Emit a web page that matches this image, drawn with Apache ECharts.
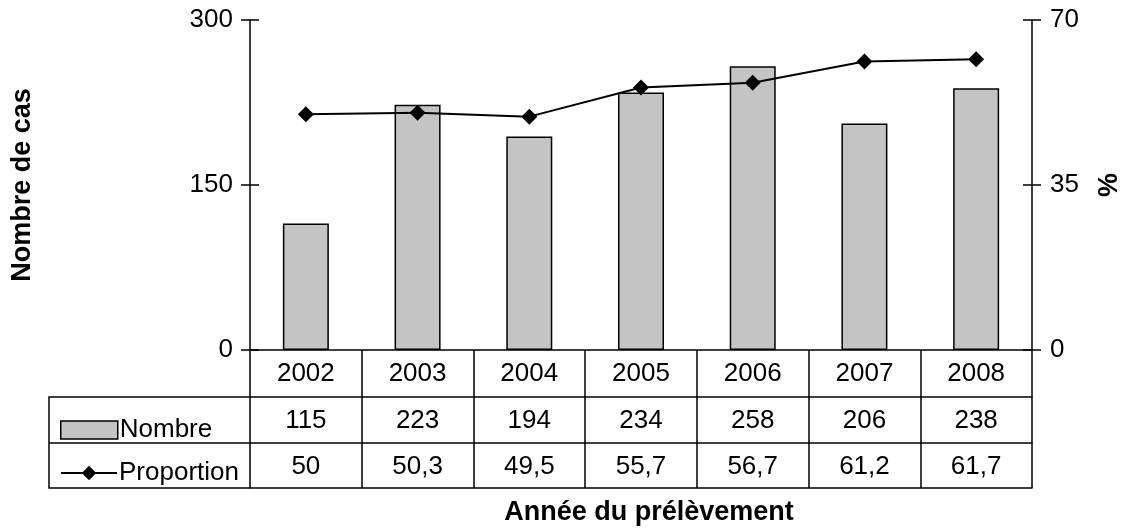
<!DOCTYPE html>
<html>
<head>
<meta charset="utf-8">
<script src="https://cdn.jsdelivr.net/npm/echarts@6/dist/echarts.min.js"></script>
<style>
  html, body { margin: 0; padding: 0; background: #fff; }
  #chart { width: 1127px; height: 531px; }
</style>
</head>
<body>
<div id="chart"></div>
<script>
// données
const years = ['2002', '2003', '2004', '2005', '2006', '2007', '2008'];
const nombre = [115, 223, 194, 234, 258, 206, 238];
const proportion = [50, 50.3, 49.5, 55.7, 56.7, 61.2, 61.7];

const font = 'Liberation Sans, Arial, sans-serif';
const black = '#000';

// texte des cellules du tableau (virgule décimale)
const fmt = v => String(v).replace('.', ',');

// un axe "ligne de tableau" : trait horizontal + traits verticaux entre les colonnes
function tableAxis(data, offset, tickLen, showLabel) {
  return {
    type: 'category',
    data: data,
    position: 'bottom',
    offset: offset,
    boundaryGap: true,
    axisLine: { show: true, onZero: false, lineStyle: { color: black, width: 1.5 } },
    axisTick: { show: tickLen > 0, alignWithLabel: false, interval: 0, length: tickLen, lineStyle: { color: black, width: 1.5 } },
    axisLabel: { show: showLabel, interval: 0, margin: 11, color: black, fontSize: 26, fontFamily: font },
    splitLine: { show: false }
  };
}

const chart = echarts.init(document.getElementById('chart'));
chart.setOption({
  animation: false,
  backgroundColor: '#fff',
  textStyle: { fontFamily: font },
  grid: { left: 250, right: 95, top: 20, bottom: 181, containLabel: false, outerBoundsMode: 'none' },
  title: {
    text: 'Année du prélèvement',
    left: 644,
    top: 494,
    textAlign: 'center',
    textStyle: { fontSize: 27, fontWeight: 'bold', color: black, fontFamily: font }
  },
  legend: [
    {
      data: [{ name: 'Nombre', icon: 'rect', itemStyle: { color: '#c4c4c4', borderColor: black, borderWidth: 1.5 } }],
      left: 55, top: 412, itemWidth: 57, itemHeight: 18,
      textStyle: { fontSize: 26, color: black, fontFamily: font, padding: [0, 0, 0, -3] }
    },
    {
      data: ['Proportion'],
      left: 55, top: 455, itemWidth: 56, itemHeight: 18,
      textStyle: { fontSize: 26, color: black, fontFamily: font, padding: [0, 0, 0, -3] }
    }
  ],
  xAxis: [
    tableAxis(years, 0, 47, true),
    tableAxis(nombre.map(fmt), 47, 46, true),
    tableAxis(proportion.map(fmt), 93, 45, true),
    tableAxis(years.map(() => ''), 138, 0, false)
  ],
  yAxis: [
    {
      type: 'value', min: 0, max: 300, interval: 150, position: 'left',
      name: 'Nombre de cas', nameLocation: 'middle', nameRotate: 90, nameGap: 214,
      nameTextStyle: { fontSize: 27, fontWeight: 'bold', color: black, fontFamily: font },
      axisLine: { show: true, lineStyle: { color: black, width: 1.5 } },
      axisTick: { show: true, length: 9, lineStyle: { color: black, width: 1.5 } },
      axisLabel: { color: black, fontSize: 26, margin: 17, fontFamily: font },
      splitLine: { show: false }
    },
    {
      type: 'value', min: 0, max: 70, interval: 35, position: 'right',
      name: '%', nameLocation: 'middle', nameRotate: 90, nameGap: 64,
      nameTextStyle: { fontSize: 27, fontWeight: 'bold', color: black, fontFamily: font },
      axisLine: { show: true, lineStyle: { color: black, width: 1.5 } },
      axisTick: { show: true, length: 9, lineStyle: { color: black, width: 1.5 } },
      axisLabel: { color: black, fontSize: 26, margin: 18, fontFamily: font },
      splitLine: { show: false }
    },
    // copies pour les graduations qui traversent l'axe
    {
      type: 'value', min: 0, max: 300, interval: 150, position: 'left',
      axisLine: { show: false },
      axisTick: { show: true, inside: true, length: 9, lineStyle: { color: black, width: 1.5 } },
      axisLabel: { show: false }, splitLine: { show: false }
    },
    {
      type: 'value', min: 0, max: 70, interval: 35, position: 'right',
      axisLine: { show: false },
      axisTick: { show: true, inside: true, length: 9, lineStyle: { color: black, width: 1.5 } },
      axisLabel: { show: false }, splitLine: { show: false }
    }
  ],
  graphic: [
    { type: 'polyline', shape: { points: [[250, 397], [49, 397], [49, 488], [250, 488]] }, style: { stroke: black, lineWidth: 1.5, fill: null } },
    { type: 'line', shape: { x1: 49, y1: 443, x2: 250, y2: 443 }, style: { stroke: black, lineWidth: 1.5 } }
  ],
  series: [
    {
      name: 'Nombre',
      type: 'bar',
      xAxisIndex: 0,
      yAxisIndex: 0,
      barWidth: 46,
      data: nombre,
      itemStyle: { color: '#c4c4c4', borderColor: black, borderWidth: 1.5 }
    },
    {
      name: 'Proportion',
      type: 'line',
      xAxisIndex: 0,
      yAxisIndex: 1,
      data: proportion,
      symbol: 'diamond',
      symbolSize: 16,
      lineStyle: { color: black, width: 2 },
      itemStyle: { color: black }
    }
  ]
});
</script>
</body>
</html>
